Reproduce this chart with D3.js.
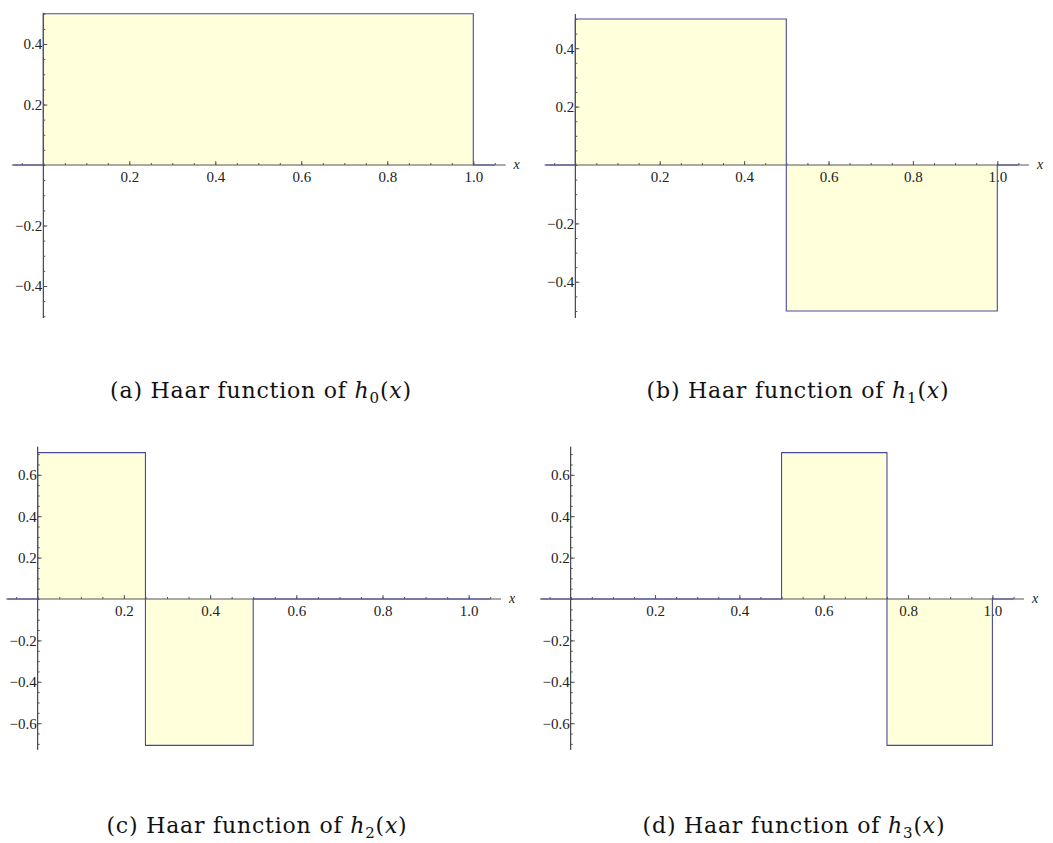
<!DOCTYPE html>
<html>
<head>
<meta charset="utf-8">
<script src="https://cdn.jsdelivr.net/npm/d3@7"></script>
<style>
  body { margin: 0; background: white; }
  .tick text { font-family: "Liberation Serif", "Tinos", "Times New Roman", "DejaVu Serif", serif; font-size: 15px; fill: #222; }
  .caption { font-family: "DejaVu Serif", serif; font-size: 22px; letter-spacing: 0.8px; fill: #111; }
  .axlabel { font-family: "Liberation Serif", "Tinos", "DejaVu Serif", serif; font-style: italic; font-size: 14px; fill: #222; }
</style>
</head>
<body>
<script>
// Haar functions: step breakpoints and the value on each step
const breaks0 = [0, 1];
const values0 = [0.5];
const breaks1 = [0, 0.5, 1];
const values1 = [0.5, -0.5];
const breaks2 = [0, 0.25, 0.5, 1];
const values2 = [0.7071, -0.7071, 0];
const breaks3 = [0, 0.5, 0.75, 1];
const values3 = [0, 0.7071, -0.7071];

const xTicks = [0.2, 0.4, 0.6, 0.8, 1.0];
const yTicksHalf = [-0.4, -0.2, 0.2, 0.4];
const yTicksRoot = [-0.6, -0.4, -0.2, 0.2, 0.4, 0.6];

const captionLetters = ["a", "b", "c", "d"];
const captionIndex = ["0", "1", "2", "3"];

const width = 1053;
const height = 843;

const svg = d3.select("body")
  .append("svg")
  .attr("width", width)
  .attr("height", height);

// panel placement (pixel origin + unit sizes)
const panels = [
  { breaks: breaks0, values: values0, yTicks: yTicksHalf, ox: 43.3, oy: 165, ux: 430, uy: 302.5, yMin: -0.506, yMax: 0.503, cx: 261, cy: 398 },
  { breaks: breaks1, values: values1, yTicks: yTicksHalf, ox: 575.3, oy: 165, ux: 422, uy: 292, yMin: -0.524, yMax: 0.517, cx: 798, cy: 398 },
  { breaks: breaks2, values: values2, yTicks: yTicksRoot, ox: 37.7, oy: 599, ux: 431, uy: 207, yMin: -0.729, yMax: 0.736, cx: 257, cy: 833 },
  { breaks: breaks3, values: values3, yTicks: yTicksRoot, ox: 570.7, oy: 599, ux: 421.7, uy: 207, yMin: -0.729, yMax: 0.736, cx: 794, cy: 833 }
];

const xMin = -0.073, xMax = 1.075;   // axis extent
const fMin = -0.07, fMax = 1.05;     // plotted range of the function

const drawPanel = (p, i) => {
  const g = svg.append("g");

  const x = d3.scaleLinear().domain([0, 1]).range([p.ox, p.ox + p.ux]);
  const y = d3.scaleLinear().domain([0, 1]).range([p.oy, p.oy - p.uy]);

  // step data from breaks/values, padded with zero outside [0,1]
  const pts = [{ x: fMin, v: 0 }];
  p.values.forEach((v, k) => pts.push({ x: p.breaks[k], v: v }));
  pts.push({ x: p.breaks[p.breaks.length - 1], v: 0 });
  pts.push({ x: fMax, v: 0 });

  // filling to axis
  const area = d3.area()
    .x(d => x(d.x))
    .y0(y(0))
    .y1(d => y(d.v))
    .curve(d3.curveStepAfter);

  g.append("path")
    .datum(pts)
    .attr("d", area)
    .attr("fill", "#ffffdc");

  // x axis
  g.append("line")
    .attr("x1", x(xMin)).attr("x2", x(xMax))
    .attr("y1", y(0)).attr("y2", y(0))
    .attr("stroke", "#555").attr("stroke-width", 1);

  const xMinor = d3.range(-0.05, 1.06, 0.05).map(d => +d.toFixed(2));
  g.append("g")
    .attr("transform", `translate(0, ${y(0)})`)
    .call(d3.axisBottom(x).tickValues(xMinor).tickSize(-2).tickFormat(""))
    .call(a => a.select(".domain").remove())
    .call(a => a.selectAll("line").attr("stroke", "#555"));

  g.append("g")
    .attr("transform", `translate(0, ${y(0)})`)
    .call(d3.axisBottom(x).tickValues(xTicks).tickSize(-4).tickPadding(6).tickFormat(d3.format(".1f")))
    .call(a => a.select(".domain").remove())
    .call(a => a.selectAll("line").attr("stroke", "#555"))
    .call(a => a.attr("font-family", null).attr("font-size", null));

  g.append("text")
    .attr("class", "axlabel")
    .attr("x", x(xMax) + 8)
    .attr("y", y(0) + 4)
    .text("x");

  // y axis
  g.append("line")
    .attr("x1", x(0)).attr("x2", x(0))
    .attr("y1", y(p.yMin)).attr("y2", y(p.yMax))
    .attr("stroke", "#222").attr("stroke-width", 1);

  const yMinor = d3.range(Math.ceil(p.yMin / 0.05) * 0.05, p.yMax, 0.05).map(d => +d.toFixed(2));
  g.append("g")
    .attr("transform", `translate(${x(0)}, 0)`)
    .call(d3.axisLeft(y).tickValues(yMinor).tickSize(-2).tickFormat(""))
    .call(a => a.select(".domain").remove())
    .call(a => a.selectAll("line").attr("stroke", "#555"));

  g.append("g")
    .attr("transform", `translate(${x(0)}, 0)`)
    .call(d3.axisLeft(y).tickValues(p.yTicks).tickSize(-4).tickPadding(1)
      .tickFormat(d => d3.format(".1f")(d).replace("-", "\u2212")))
    .call(a => a.select(".domain").remove())
    .call(a => a.selectAll("line").attr("stroke", "#555"))
    .call(a => a.attr("font-family", null).attr("font-size", null));

  // function line
  const line = d3.line()
    .x(d => x(d.x))
    .y(d => y(d.v))
    .curve(d3.curveStepAfter);

  g.append("path")
    .datum(pts)
    .attr("d", line)
    .attr("fill", "none")
    .attr("stroke", "#4a4a9c")
    .attr("stroke-width", 1.1);

  // caption
  const cap = svg.append("text")
    .attr("class", "caption")
    .attr("x", p.cx)
    .attr("y", p.cy)
    .attr("text-anchor", "middle");
  cap.append("tspan").text(`(${captionLetters[i]}) Haar function of `);
  cap.append("tspan").attr("font-style", "italic").text("h");
  cap.append("tspan").attr("font-size", 15).attr("dy", 5).text(captionIndex[i]);
  cap.append("tspan").attr("dy", -5).text("(");
  cap.append("tspan").attr("font-style", "italic").text("x");
  cap.append("tspan").text(")");
};

panels.forEach(drawPanel);
</script>
</body>
</html>
